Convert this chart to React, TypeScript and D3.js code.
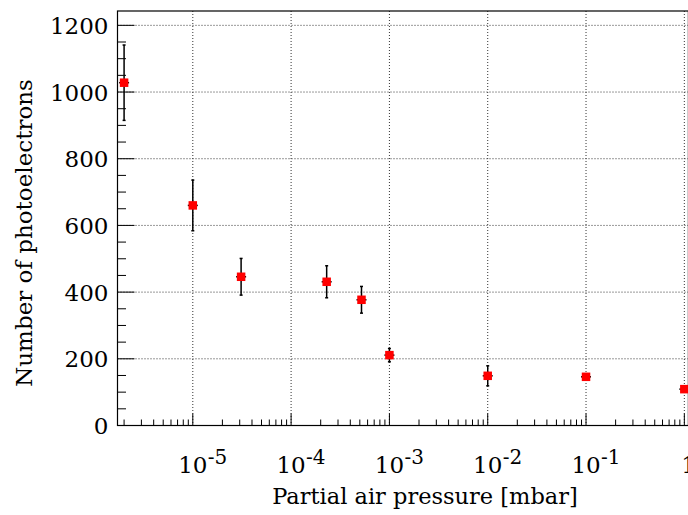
import React from "react";
import * as d3 from "d3";

const pressure = [2.0e-6, 1e-5, 3.1e-5, 2.3e-4, 5.2e-4, 1e-3, 1e-2, 1e-1, 1];
const photoelectrons = [1028, 660, 446, 431, 377, 211, 149, 146, 109];
const errors = [113, 76, 55, 48, 40, 20, 30, 7, 6];
const yTicks = [0, 200, 400, 600, 800, 1000, 1200];
const xDecades = [-5, -4, -3, -2, -1, 0];

const W = 688;
const H = 515;
const left = 117.5;
const right = 688.4;
const top = 11;
const bottom = 425.5;

const font = "'DejaVu Serif', serif";
const ts = (size: number): React.CSSProperties => ({ fontFamily: font, fontSize: size });

export default function App() {
  const x = d3.scaleLog().domain([1.714e-6, 1.1]).range([left, right]);
  const y = d3.scaleLinear().domain([0, 1243]).range([bottom, top]);

  const yMinor = d3.range(0, 1243, 50);
  const xMinor: number[] = [];
  for (let e = -6; e <= 0; e++) {
    for (let m = 1; m <= 9; m++) {
      const v = m * Math.pow(10, e);
      if (v >= 1.714e-6 && v <= 1.1) xMinor.push(v);
    }
  }

  return (
    <div style={{ position: "fixed", left: 0, top: 0 }}>
      <svg width={W} height={H} style={{ display: "block", background: "#fff" }}>
        <rect x={0} y={0} width={W} height={H} fill="#fff" />
        {yTicks.filter((t) => t > 0).map((t) => (
          <line key={"gy" + t} x1={left} x2={right} y1={y(t)} y2={y(t)}
            stroke="#333" strokeWidth={1} strokeDasharray="1,2" />
        ))}
        {xDecades.map((d) => (
          <line key={"gx" + d} x1={x(Math.pow(10, d))} x2={x(Math.pow(10, d))} y1={top} y2={bottom}
            stroke="#333" strokeWidth={1} strokeDasharray="1,2" />
        ))}
        {yMinor.map((t) => (
          <line key={"ym" + t} x1={left} x2={left + (t % 200 === 0 ? 17 : 8.5)} y1={y(t)} y2={y(t)}
            stroke="#000" strokeWidth={1} />
        ))}
        {xMinor.map((v, i) => {
          const major = Math.abs(Math.log10(v) - Math.round(Math.log10(v))) < 1e-9;
          return (
            <line key={"xm" + i} x1={x(v)} x2={x(v)} y1={bottom} y2={bottom - (major ? 12 : 6)}
              stroke="#000" strokeWidth={1} />
          );
        })}
        <rect x={left} y={top} width={right - left} height={bottom - top} fill="none" stroke="#000" strokeWidth={1.2} />
        {yTicks.map((t) => (
          <text key={"yl" + t} x={108.5} y={y(t) + 8.5} textAnchor="end" style={ts(23)} fill="#000">
            {t}
          </text>
        ))}
        {xDecades.map((d) =>
          d === 0 ? (
            <text key={"xl" + d} x={x(1) - 3} y={473} textAnchor="start" style={ts(23)} fill="#000">1</text>
          ) : (
            <g key={"xl" + d}>
              <text x={x(Math.pow(10, d))} y={473} textAnchor="middle" style={ts(23)} fill="#000">10</text>
              <text x={x(Math.pow(10, d)) + 15} y={464} textAnchor="start" style={ts(20)} fill="#000">{"-" + Math.abs(d)}</text>
            </g>
          )
        )}
        {pressure.map((p, i) => {
          const cx = x(p);
          const y1 = y(photoelectrons[i] + errors[i]);
          const y2 = y(photoelectrons[i] - errors[i]);
          const cy = y(photoelectrons[i]);
          return (
            <g key={"e" + i} stroke="#000" strokeWidth={1.5}>
              <line x1={cx} x2={cx} y1={y1} y2={y2} />
              <line x1={cx - 1.5} x2={cx + 1.5} y1={y1} y2={y1} />
              <line x1={cx - 1.5} x2={cx + 1.5} y1={y2} y2={y2} />
              <line x1={cx - 5} x2={cx + 5} y1={cy} y2={cy} />
            </g>
          );
        })}
        {pressure.map((p, i) => (
          <rect key={"m" + i} x={x(p) - 4.25} y={y(photoelectrons[i]) - 4.25} width={8.5} height={8.5} fill="#ff0000" />
        ))}
        <text x={425} y={503.5} textAnchor="middle" style={ts(22.5)} fill="#000">
          Partial air pressure [mbar]
        </text>
        <text transform={`translate(32, 233) rotate(-90)`} textAnchor="middle" style={ts(23)} fill="#000">
          Number of photoelectrons
        </text>
      </svg>
    </div>
  );
}
